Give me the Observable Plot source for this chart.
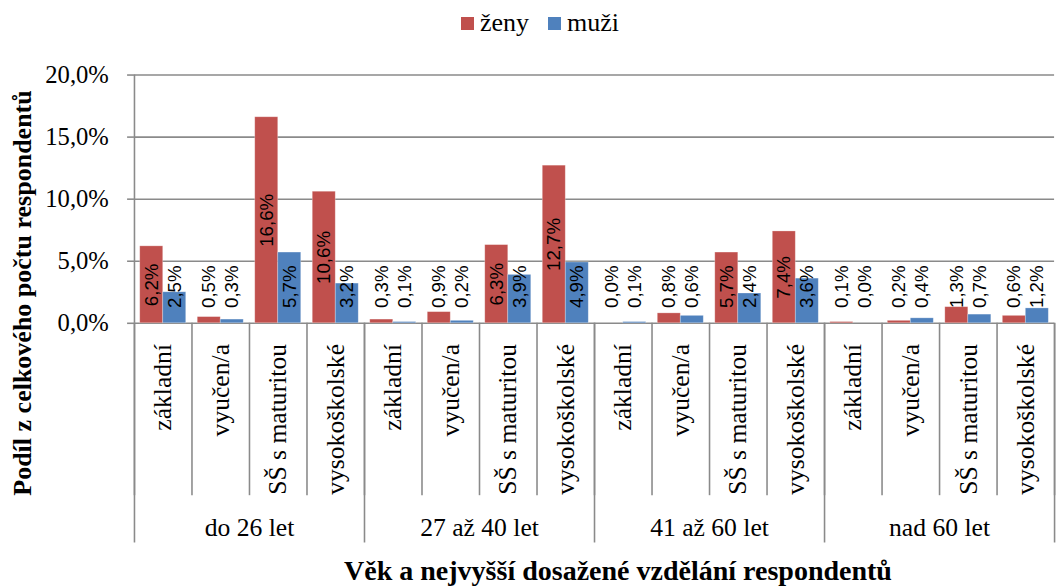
<!DOCTYPE html>
<html><head><meta charset="utf-8">
<script src="https://cdn.jsdelivr.net/npm/d3@7"></script>
<script src="https://cdn.jsdelivr.net/npm/@observablehq/plot@0.6"></script>
<style>
body{margin:0;width:1059px;height:586px;overflow:hidden;position:relative;background:#fff;font-family:"Liberation Serif","Times New Roman",serif;color:#000;}
#legend{position:absolute;left:0;top:0;width:1059px;height:45px;}
#legend .sw{position:absolute;top:17px;width:13px;height:13px;}
#legend .lb{position:absolute;top:8px;font-family:"Liberation Serif","Times New Roman",serif;font-size:26px;line-height:29px;white-space:nowrap;}
#chart{position:absolute;left:0;top:45px;}
#chart svg text{font-family:"Liberation Serif","Times New Roman",serif !important;}
#chart svg g[aria-label="text"] text{font-family:"Liberation Sans",Arial,sans-serif !important;}
#ytitle{position:absolute;left:-227px;top:278px;width:500px;height:30px;line-height:30px;text-align:center;font-family:"Liberation Serif",serif;font-size:26px;font-weight:bold;transform:rotate(-90deg);white-space:nowrap;}
#xtitle{position:absolute;left:0;top:555px;width:1236px;height:31px;line-height:31px;text-align:center;font-family:"Liberation Serif",serif;font-size:28px;font-weight:bold;white-space:nowrap;}
</style></head><body>
<div id="legend"></div>
<div id="chart"></div>
<div id="ytitle">Podíl z celkového počtu respondentů</div>
<div id="xtitle">Věk a nejvyšší dosažené vzdělání respondentů</div>
<script>
const groups = ["do 26 let", "27 až 40 let", "41 až 60 let", "nad 60 let"];
const categories = ["základní", "vyučen/a", "SŠ s maturitou", "vysokoškolské"];
const zeny = [6.2, 0.5, 16.6, 10.6, 0.3, 0.9, 6.3, 12.7, 0.0, 0.8, 5.7, 7.4, 0.1, 0.2, 1.3, 0.6];
const muzi = [2.5, 0.3, 5.7, 3.2, 0.1, 0.2, 3.9, 4.9, 0.1, 0.6, 2.4, 3.6, 0.0, 0.4, 0.7, 1.2];
const series = ["ženy", "muži"];
const colors = ["#C0504D", "#4F81BD"];
const yTicks = [0, 5, 10, 15, 20];

const fmt = v => v.toFixed(1).replace(".", ",") + "%";
const nCat = zeny.length;
const rows = [];
for (let i = 0; i < nCat; i++) {
  rows.push({i, s: 0, sex: series[0], value: zeny[i]});
  rows.push({i, s: 1, sex: series[1], value: muzi[i]});
}
const pad = 0.1, bw = 0.4;
const gray = "#8a8a8a";

const chart = Plot.plot({
  width: 1075, height: 510,
  marginLeft: 136, marginRight: 5, marginTop: 30, marginBottom: 228,
  x: {domain: [0, nCat]},
  y: {domain: [0, 20]},
  color: {domain: series, range: colors},
  style: {fontSize: "26px", background: "transparent", color: "#000"},
  marks: [
    Plot.gridY(yTicks, {stroke: gray, strokeOpacity: 1, strokeWidth: 1.6}),
    Plot.ruleX([0], {stroke: gray, strokeWidth: 1.6}),
    Plot.rectY(rows, {
      x1: d => d.i + pad + bw * d.s,
      x2: d => d.i + pad + bw * (d.s + 1),
      y: "value", fill: "sex",
      stroke: "#ffffff", strokeOpacity: 0.35, strokeWidth: 0.8
    }),
    Plot.text(rows, {
      x: d => d.i + pad + bw * (d.s + 0.5),
      y: d => Math.max(d.value / 2, 2.95),
      text: d => fmt(d.value),
      rotate: -90,
      fontSize: 19,
      fill: "#000"
    }),
    Plot.axisY({ticks: yTicks, tickSize: 7, tickPadding: 19, tickFormat: fmt,
      stroke: gray, strokeWidth: 1.6, fontSize: 25, label: null}),
    Plot.axisX({ticks: d3.range(nCat + 1), tickSize: 175, tickFormat: () => "",
      stroke: gray, strokeWidth: 1.6, label: null}),
    Plot.axisX({ticks: d3.range(0, nCat + 1, 4), tickSize: 223, tickFormat: () => "",
      stroke: gray, strokeWidth: 1.6, label: null}),
    Plot.axisX({ticks: d3.range(nCat).map(i => i + 0.5), tickSize: 0, tickPadding: 21,
      tickRotate: -90, tickFormat: v => categories[Math.floor(v) % 4],
      fontSize: 26, label: null}),
    Plot.axisX({ticks: groups.map((g, k) => k * 4 + 2), tickSize: 0, tickPadding: 197,
      tickFormat: v => groups[(v - 2) / 4], fontSize: 26, label: null})
  ]
});
document.getElementById("chart").appendChild(chart);

// legend
const legend = document.getElementById("legend");
const lx = [461, 548];
series.forEach((s, k) => {
  const sw = document.createElement("div");
  sw.className = "sw"; sw.style.left = lx[k] + "px"; sw.style.background = colors[k];
  const lb = document.createElement("div");
  lb.className = "lb"; lb.style.left = (lx[k] + 19) + "px"; lb.textContent = s;
  legend.appendChild(sw); legend.appendChild(lb);
});
</script>
</body></html>
